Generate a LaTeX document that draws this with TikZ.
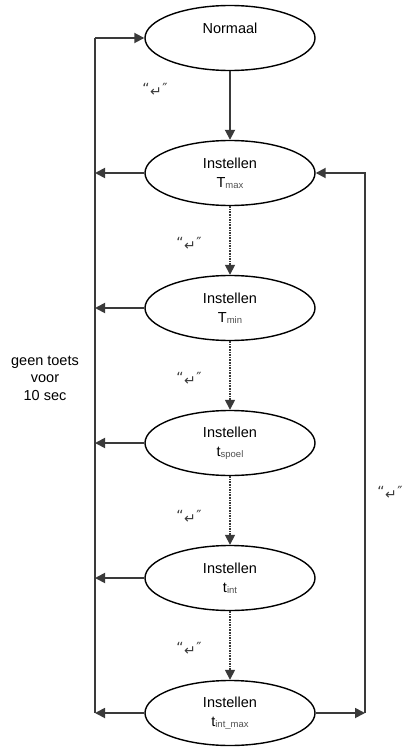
\documentclass[tikz,border=0pt]{standalone}
\usepackage{fontspec}
\setmainfont{Liberation Sans}
\newfontfamily\dvfont{DejaVu Sans}
\usetikzlibrary{arrows.meta,shapes.geometric}
\definecolor{conn}{HTML}{3A3A3A}
\definecolor{subc}{HTML}{505050}
\newcommand{\subt}[1]{{\fontsize{9.5}{10}\selectfont\color{subc}\raisebox{-1pt}{#1}}}
\newcommand{\enterlabel}{{\dvfont\fontsize{14}{14}\selectfont\char"201C\hspace{0.5pt}\raisebox{-2.5pt}{\fontsize{14}{14}\selectfont\char"21B5}\hspace{0.5pt}\char"2033}}
\tikzset{
  state/.style={ellipse, draw=black, line width=1.4pt, fill=white,
    minimum width=170pt, minimum height=65pt, inner sep=0pt, align=center,
    font=\fontsize{14.5}{19}\selectfont},
  conline/.style={draw=conn, line width=1.8pt},
  arr/.style={conline, -{Triangle[length=10pt,width=10pt]}},
  dotarr/.style={draw=conn, line width=1.6pt, densely dotted, -{Triangle[length=10pt,width=10pt,sharp]}},
  lbl/.style={font=\fontsize{14.5}{17.5}\selectfont, align=center, inner sep=0pt},
  qlbl/.style={inner sep=0pt, text=conn}
}
\begin{document}
\begin{tikzpicture}[x=1pt,y=-1pt]
\useasboundingbox (0,0) rectangle (404,749);
\node[state] (norm) at (230,38) {Normaal\\\mbox{}};
\node[state] (tmax) at (230,173) {Instellen\\T\subt{max}};
\node[state] (tmin) at (230,308) {Instellen\\T\subt{min}};
\node[state] (tsp) at (230,443) {Instellen\\t\subt{spoel}};
\node[state] (tint) at (230,578) {Instellen\\t\subt{int}};
\node[state] (tim) at (230,713) {Instellen\\t\subt{int\_max}};

\coordinate (Ltop) at (95,38);
\coordinate (Lbot) at (95,713);
\coordinate (L1) at (95,173);
\coordinate (L2) at (95,308);
\coordinate (L3) at (95,443);
\coordinate (L4) at (95,578);
\coordinate (Rbot) at (365,713);
\coordinate (Rtop) at (365,173);

% left return line
\draw[conline] (Lbot) -- (Ltop);
\draw[arr] (Ltop) -- (norm.west);
\draw[arr] (tmax.west) -- (L1);
\draw[arr] (tmin.west) -- (L2);
\draw[arr] (tsp.west) -- (L3);
\draw[arr] (tint.west) -- (L4);
\draw[arr] (tim.west) -- (Lbot);

% right return line
\draw[arr] (tim.east) -- (Rbot);
\draw[arr] (Rbot) -- (Rtop) -- (tmax.east);

% forward chain
\draw[arr] (norm.south) -- (tmax.north);
\draw[dotarr] (tmax.south) -- (tmin.north);
\draw[dotarr] (tmin.south) -- (tsp.north);
\draw[dotarr] (tsp.south) -- (tint.north);
\draw[dotarr] (tint.south) -- (tim.north);

% labels
\node[qlbl] (q1) at (155,90) {\enterlabel};
\node[qlbl] (q2) at (189,244) {\enterlabel};
\node[qlbl] (q3) at (189,379) {\enterlabel};
\node[qlbl] (q4) at (189,517) {\enterlabel};
\node[qlbl] (q5) at (189,649) {\enterlabel};
\node[qlbl] (q6) at (390,493) {\enterlabel};
\node[lbl] (geen) at (45,378) {geen toets\\voor\\10 sec};
\end{tikzpicture}
\end{document}
